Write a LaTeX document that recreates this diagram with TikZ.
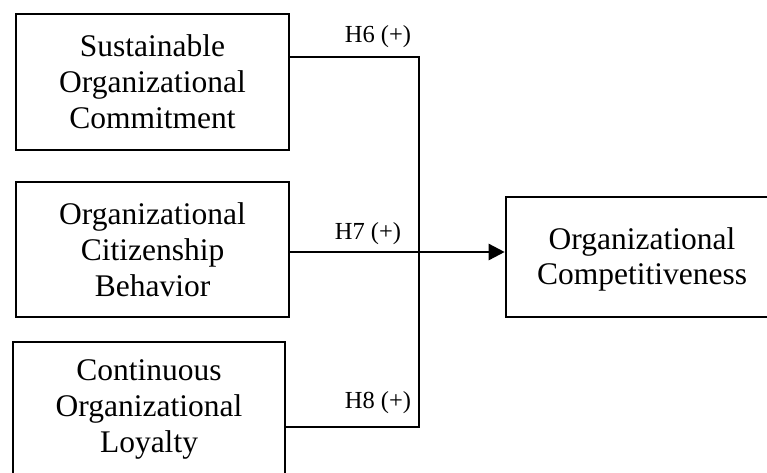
\documentclass[tikz,border=0pt]{standalone}
\usepackage{fontspec}
\setmainfont{Liberation Serif}
\usetikzlibrary{arrows.meta}

\tikzset{
  construct/.style={draw, line width=2.6pt, inner sep=0pt, align=center,
    font=\fontsize{31.5}{36}\selectfont},
  caption/.style={inner sep=0pt, align=center, font=\fontsize{31.5}{35}\selectfont},
  link/.style={line width=2.5pt},
  hyp/.style={font=\fontsize{24.5}{28}\selectfont, inner sep=0pt, anchor=base},
}

\begin{document}
\begin{tikzpicture}[x=1pt, y=-1pt]
  \useasboundingbox (0,0) rectangle (767,472);
  \clip (0,0) rectangle (767,472);

  % antecedent constructs
  \node[construct, minimum width=273pt, minimum height=136pt] (soc) at (152.5,82)
    {Sustainable\\Organizational\\Commitment};
  \node[construct, minimum width=273pt, minimum height=135pt] (ocb) at (152.5,249.5)
    {Organizational\\Citizenship\\Behavior};
  \node[construct, minimum width=272pt, minimum height=134pt] (col) at (149,409)
    {Continuous\\Organizational\\Loyalty};

  % outcome construct (its frame runs on past the right margin)
  \node[construct, minimum width=320pt, minimum height=120pt] (comp) at (666,257) {};
  \node[caption] (comptext) at (642,259) {Organizational\\Competitiveness};

  % junction points of the connector bus
  \coordinate (jtop) at (419,57);
  \coordinate (jbot) at (419,427);
  \coordinate (jmid) at (0,252);

  \draw[link] (soc.east |- jtop) -- (jtop) -- (jbot) -- (col.east |- jbot);
  \draw[link, -{Triangle[length=16pt, width=16pt]}] (ocb.east |- jmid) -- (comp.west |- jmid);

  % hypothesis labels
  \node[hyp] (h6) at (378,42) {H6 (+)};
  \node[hyp] (h7) at (368,239) {H7 (+)};
  \node[hyp] (h8) at (378,408) {H8 (+)};
\end{tikzpicture}
\end{document}
